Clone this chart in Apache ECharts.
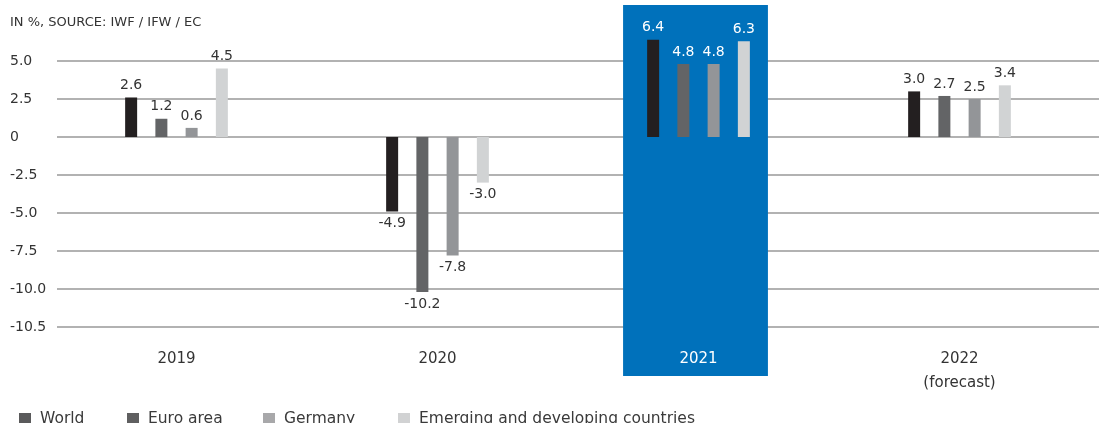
<!DOCTYPE html>
<html>
<head>
<meta charset="utf-8">
<script src="https://cdn.jsdelivr.net/npm/echarts@6/dist/echarts.min.js"></script>
<style>
html,body{margin:0;padding:0;background:#fff;}
#chart{width:1099px;height:423px;}
</style>
</head>
<body>
<div id="chart"></div>
<script>
// ---- data ----
const categories = ['2019', '2020', '2021', '2022\n(forecast)'];
const highlightCategory = '2021';
const seriesNames = ['World', 'Euro area', 'Germany', 'Emerging and developing countries'];
const world = [2.6, -4.9, 6.4, 3.0];
const euroArea = [1.2, -10.2, 4.8, 2.7];
const germany = [0.6, -7.8, 4.8, 2.5];
const emerging = [4.5, -3.0, 6.3, 3.4];
const yTickValues = [5, 2.5, 0, -2.5, -5, -7.5, -10, -12.5];
const yTickLabels = ['5.0', '2.5', '0', '-2.5', '-5.0', '-7.5', '-10.0', '-10.5'];
const titleText = 'IN %, SOURCE: IWF / IFW / EC';

// ---- styles ----
const FONT = 'DejaVu Sans';
const TEXT = '#333333';
const colors = ['#231f20', '#636466', '#939598', '#d1d3d4'];
const legendIconColors = ['#5a5a5b', '#5f5f60', '#a8a8aa', '#d1d2d3'];
const legendLefts = [19, 127, 263, 398];
const BLUE = '#0071bb';

const values = [world, euroArea, germany, emerging];
const hiIdx = categories.indexOf(highlightCategory);

const chart = echarts.init(document.getElementById('chart'), null, {renderer: 'canvas'});

const barSeries = seriesNames.map((name, s) => ({
  name: name,
  type: 'bar',
  xAxisIndex: 1,
  yAxisIndex: 1,
  z: 3,
  barWidth: 12,
  barGap: '152%',
  itemStyle: {color: colors[s]},
  data: values[s].map((v, i) => ({
    value: v,
    label: {
      show: true,
      position: v >= 0 ? 'top' : 'bottom',
      distance: 5,
      color: i === hiIdx ? '#ffffff' : TEXT,
      fontFamily: FONT,
      fontSize: 14,
      formatter: (p) => p.value.toFixed(1)
    }
  }))
}));

const highlightSeries = {
  type: 'custom',
  xAxisIndex: 1,
  yAxisIndex: 1,
  z: 1,
  clip: false,
  silent: true,
  data: [[hiIdx]],
  renderItem: function (params, api) {
    const c = api.coord([api.value(0), 0]);
    const band = api.size([1, 0])[0];
    const w = band * 0.555;
    const cx = c[0] - 3;
    const top = api.coord([api.value(0), 7.5])[1] - 18;
    const bottom = api.coord([api.value(0), -12.5])[1] + 49;
    return {
      type: 'rect',
      shape: {x: cx - w / 2, y: top, width: w, height: bottom - top},
      style: {fill: BLUE}
    };
  }
};

const legends = seriesNames.map((name, s) => ({
  left: legendLefts[s],
  top: 411,
  padding: 0,
  itemWidth: 12,
  itemHeight: 12,
  itemGap: 0,
  selectedMode: false,
  textStyle: {color: '#3a3a3a', fontFamily: FONT, fontSize: 15.5, padding: [0, 0, 0, 4]},
  data: [{name: name, icon: 'rect', itemStyle: {color: legendIconColors[s]}}]
}));

const yAxisCommon = {
  type: 'value',
  min: -12.5,
  max: 7.5,
  interval: 2.5
};

chart.setOption({
  animation: false,
  backgroundColor: '#ffffff',
  title: {
    text: titleText,
    left: 10,
    top: 16,
    padding: 0,
    textStyle: {color: TEXT, fontFamily: FONT, fontSize: 13, fontWeight: 'normal'}
  },
  legend: legends,
  grid: [
    {left: 57, right: 0, top: 23, bottom: 96},
    {left: 46, right: 9, top: 23, bottom: 96}
  ],
  xAxis: [
    {type: 'category', gridIndex: 0, data: categories, show: false},
    {
      type: 'category', gridIndex: 1, data: categories, z: 5,
      axisLine: {show: false}, axisTick: {show: false},
      axisLabel: {
        margin: 20,
        fontFamily: FONT, fontSize: 15, lineHeight: 24,
        color: (val) => val === highlightCategory ? '#ffffff' : TEXT
      }
    }
  ],
  yAxis: [
    Object.assign({}, yAxisCommon, {
      gridIndex: 0,
      z: 0,
      axisLine: {show: false}, axisTick: {show: false},
      splitLine: {show: true, showMaxLine: false, lineStyle: {color: '#999999', width: 1.5}},
      axisLabel: {
        showMaxLabel: false,
        align: 'left',
        margin: 47,
        color: TEXT, fontFamily: FONT, fontSize: 14,
        formatter: (v) => {
          const k = yTickValues.indexOf(v);
          return k >= 0 ? yTickLabels[k] : '';
        }
      }
    }),
    Object.assign({}, yAxisCommon, {gridIndex: 1, show: false, splitLine: {show: false}})
  ],
  series: [highlightSeries].concat(barSeries)
});
</script>
</body>
</html>
